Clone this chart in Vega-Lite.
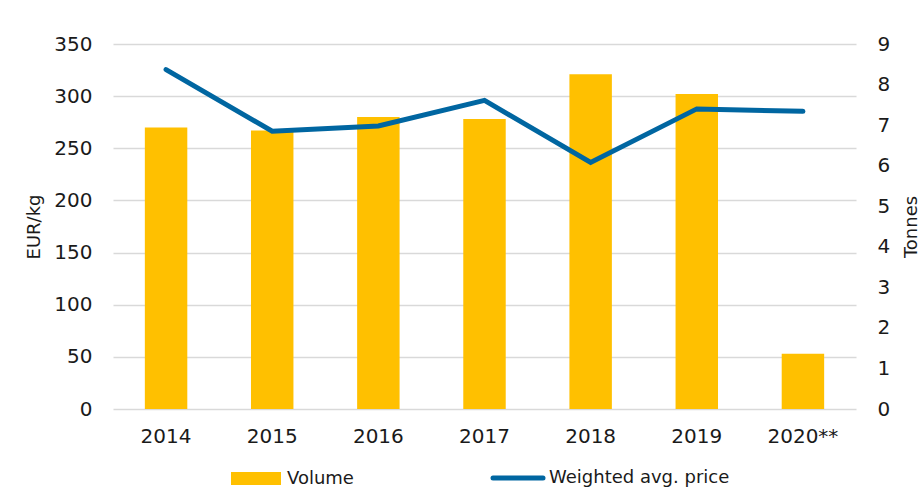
{
  "$schema": "https://vega.github.io/schema/vega-lite/v6.json",
  "width": 743,
  "height": 365,
  "autosize": "none",
  "padding": {"left": 113, "top": 44, "right": 64, "bottom": 85},
  "background": "white",
  "config": {
    "font": "DejaVu Sans",
    "view": {"stroke": null},
    "axis": {
      "domain": false,
      "ticks": false,
      "labelFontSize": 20,
      "labelColor": "#1a1a1a",
      "titleFontSize": 18,
      "titleFontWeight": "normal",
      "titleColor": "#1a1a1a",
      "gridColor": "#d9d9d9",
      "gridWidth": 1.5
    }
  },
  "data": {
    "values": [
      {"year": "2014", "volume": 270, "price": 8.37},
      {"year": "2015", "volume": 267, "price": 6.85},
      {"year": "2016", "volume": 280, "price": 6.98},
      {"year": "2017", "volume": 278, "price": 7.61},
      {"year": "2018", "volume": 321, "price": 6.08},
      {"year": "2019", "volume": 302, "price": 7.40},
      {"year": "2020**", "volume": 53, "price": 7.34}
    ]
  },
  "encoding": {
    "x": {
      "field": "year",
      "type": "ordinal",
      "sort": null,
      "scale": {"paddingInner": 0.6, "paddingOuter": 0.3},
      "axis": {"title": null, "labelAngle": 0, "labelPadding": 17, "grid": false}
    }
  },
  "layer": [
    {
      "mark": {"type": "bar", "color": "#FFC000"},
      "encoding": {
        "y": {
          "field": "volume",
          "type": "quantitative",
          "scale": {"domain": [0, 350], "nice": false},
          "axis": {
            "title": "EUR/kg",
            "values": [0, 50, 100, 150, 200, 250, 300, 350],
            "labelPadding": 21,
            "titlePadding": 10,
            "grid": true
          }
        },
        "color": {
          "datum": "Volume",
          "scale": {"domain": ["Volume", "Weighted avg. price"], "range": ["#FFC000", "#0066A1"]},
          "legend": {
            "title": null,
            "orient": "none",
            "legendX": 134,
            "legendY": 425,
            "direction": "horizontal",
            "labelFontSize": 18,
            "labelColor": "#1a1a1a",
            "labelOffset": 22,
            "labelLimit": 400,
            "columnPadding": 129,
            "symbolSize": 2500,
            "encode": {
              "symbols": {
                "update": {
                  "shape": {"signal": "datum.value === 'Volume' ? 'M-1,-0.26L1,-0.26L1,0.26L-1,0.26Z' : 'M-1,0L1,0'"},
                  "fill": {"signal": "datum.value === 'Volume' ? '#FFC000' : 'transparent'"},
                  "stroke": {"signal": "datum.value === 'Volume' ? 'transparent' : '#0066A1'"},
                  "strokeWidth": {"signal": "datum.value === 'Volume' ? 0 : 5"},
                  "strokeCap": {"value": "round"},
                  "opacity": {"value": 1}
                }
              }
            }
          }
        }
      }
    },
    {
      "mark": {"type": "line", "color": "#0066A1", "strokeWidth": 5, "strokeCap": "round", "strokeJoin": "miter"},
      "encoding": {
        "y": {
          "field": "price",
          "type": "quantitative",
          "scale": {"domain": [0, 9], "nice": false},
          "axis": {
            "orient": "right",
            "title": "Tonnes",
            "values": [0, 1, 2, 3, 4, 5, 6, 7, 8, 9],
            "labelPadding": 21,
            "titlePadding": 13,
            "titleAngle": 270,
            "titleBaseline": "top",
            "grid": false
          }
        },
        "color": {"datum": "Weighted avg. price"}
      }
    }
  ],
  "resolve": {"scale": {"y": "independent"}}
}
